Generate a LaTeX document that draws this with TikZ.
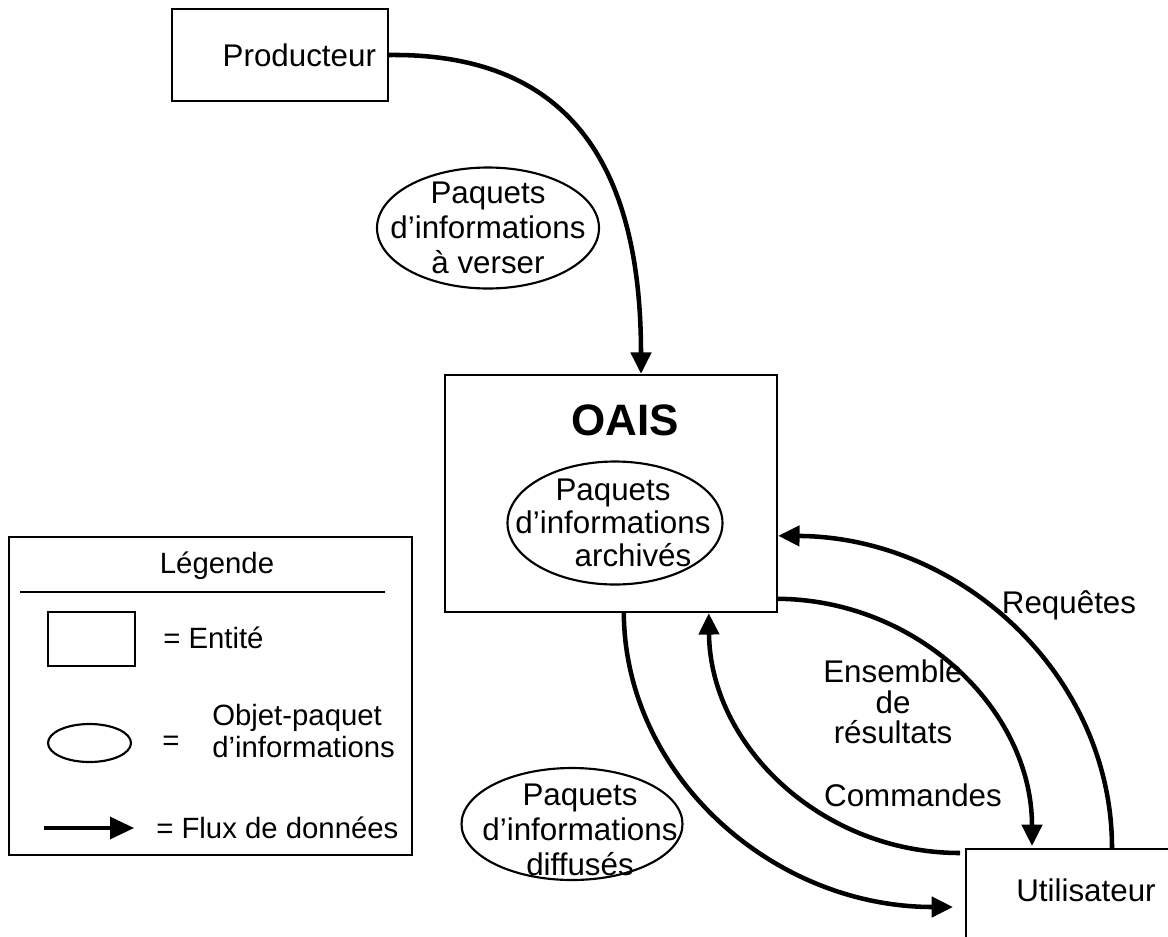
\documentclass[tikz,border=0pt]{standalone}
\usepackage{fontspec}
\setmainfont{Liberation Sans}
\usetikzlibrary{calc,shapes.geometric,arrows.meta}

\tikzset{
  entity/.style={draw, line width=1.8pt, rectangle, inner sep=0pt},
  packet/.style={draw, line width=1.6pt, ellipse, inner sep=0pt},
  txt/.style={font=\fontsize{23.5}{26.5}\selectfont, align=center, inner sep=0pt},
  legtxt/.style={font=\fontsize{22}{24}\selectfont, inner sep=0pt},
  flow/.style={line width=3.4pt, -{Triangle[length=16pt,width=15pt]}},
}

\begin{document}
\begin{tikzpicture}[x=0.75pt, y=-0.75pt]
    \clip (0,0) rectangle (1168,936);
    % entities
    \node[entity, txt, minimum height=69pt, text width=144pt, inner xsep=9pt, align=right] (prod) at (280,55) {Producteur};
    \node[entity, minimum width=249pt, minimum height=177.75pt] (oais) at (611,493.5) {};
    \node[txt, font=\fontsize{33}{38}\selectfont\bfseries] (oaistitle) at (625,420) {OAIS};
    \node[entity, anchor=north west, minimum width=300pt, minimum height=150pt] (user) at (965,848) {};
    \node[txt] (usertxt) at (1086,890) {Utilisateur};
    % information packets
    \node[packet, minimum width=166.5pt, minimum height=90.75pt] (verser) at (488,228) {};
    \node[txt] (versertxt) at (488,228) {Paquets\\d’informations\\à verser};
    \node[packet, minimum width=161.25pt, minimum height=92.25pt] (archive) at (615,523) {};
    \node[txt, font=\fontsize{23.5}{24.5}\selectfont] (archivetxt) at (613,523) {Paquets\\d’informations\\\hspace*{30pt}archivés};
    \node[packet, minimum width=165.75pt, minimum height=84pt] (diffuse) at (572,824) {};
    \node[txt] (diffusetxt) at (580,830) {Paquets\\d’informations\\diffusés};
    % flows
    \draw[flow] (prod.east) .. controls (565,53) and (641,160) .. ($(oais.north)+(30,0)$);
    \draw[flow] ($(user.north west)+(147,0)$) .. controls (1112,676) and (962,537) .. ($(oais.north east)+(0,162)$);
    \draw[flow] ($(oais.north east)+(0,225)$) .. controls (918,600) and (1032,710) .. ($(user.north west)+(67,-2)$);
    \draw[flow] ($(user.north west)+(-5,5)$) .. controls (822,853) and (710,746) .. ($(oais.south west)+(265,0)$);
    \draw[flow] ($(oais.south west)+(180,0)$) .. controls (625,775) and (772,907) .. ($(user.north west)+(-12,59)$);
    \node[txt] (requetes) at (1069,605) {Requêtes};
    \node[txt, font=\fontsize{23.5}{23}\selectfont] (resultats) at (893,702) {Ensemble\\de\\résultats};
    \node[txt] (commandes) at (913,795) {Commandes};
    % legend
    \node[entity, minimum width=302.25pt, minimum height=238.5pt] (legend) at (210.5,696) {};
    \node[legtxt] (legtitle) at (217,566) {Légende};
    \draw[line width=2.2pt] (20,592) -- (385,592);
    \node[entity, minimum width=65.25pt, minimum height=40.5pt] (legrect) at (91.5,639) {};
    \node[legtxt, anchor=west] (legentity) at (163,638) {= Entité};
    \node[packet, minimum width=62.25pt, minimum height=28.5pt] (legellipse) at (89.5,743) {};
    \node[legtxt] (legequal) at (171,743) {=};
    \node[legtxt, anchor=west, align=left] (legpacket) at (212,731) {Objet-paquet\\d’informations};
    \coordinate (legA) at (44,828);
    \coordinate (legB) at (134,828);
    \draw[line width=2.4pt, -{Triangle[length=18pt,width=16.5pt]}] (legA) -- (legB);
    \node[legtxt, anchor=west] (legflow) at (156,828) {= Flux de données};
\end{tikzpicture}
\end{document}
